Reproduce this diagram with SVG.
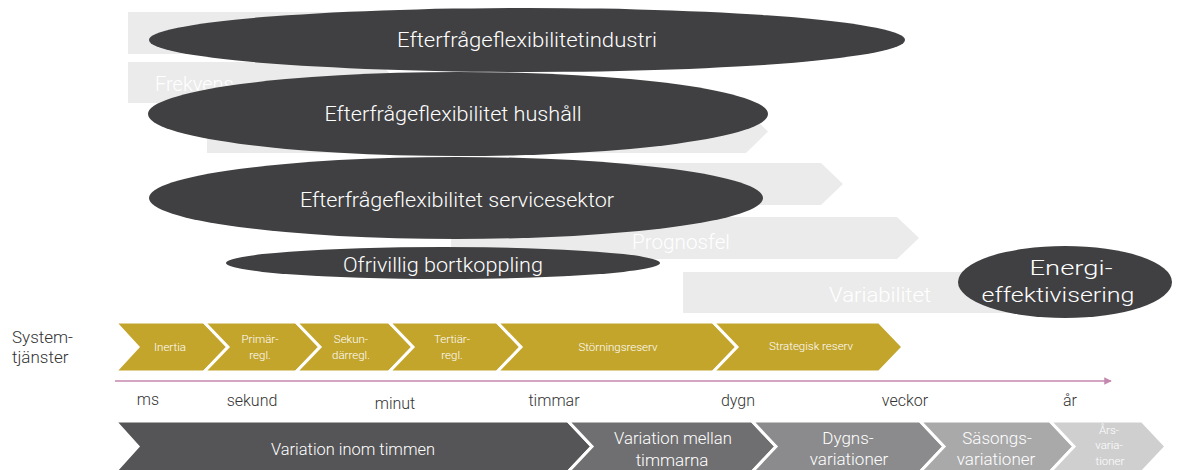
<svg xmlns="http://www.w3.org/2000/svg" width="1178" height="470" viewBox="0 0 1178 470">
  <style>
    text { font-family: Roboto, "Liberation Sans", "DejaVu Sans", sans-serif; font-weight: 300; }
    .bar { fill: #ebebeb; }
    .barlbl { fill: #ffffff; font-size: 20px; }
    .oval { fill: #404042; }
    .ovallbl { fill: #ffffff; font-size: 21px; text-anchor: middle; }
    .gold { fill: #c3a52b; stroke: #ffffff; stroke-width: 3; stroke-linejoin: miter; }
    .goldlbl { fill: #ffffff; font-size: 11.5px; text-anchor: middle; }
    .vlbl { fill: #ffffff; font-size: 17px; text-anchor: middle; }
    .ax { fill: #333333; font-size: 16px; text-anchor: middle; }
    .side { fill: #333333; font-size: 17px; }
    .band { stroke: #ffffff; stroke-width: 3; stroke-linejoin: miter; }
  </style>
  <defs>
    <marker id="tip" viewBox="0 0 10 10" refX="9" refY="5" markerWidth="5" markerHeight="5" orient="auto" markerUnits="strokeWidth">
      <path d="M0,0 L10,5 L0,10 Z" fill="#c487ad"/>
    </marker>
  </defs>

  <!-- background phenomenon bars -->
  <g id="bars">
    <path class="bar" d="M128,12 H600 L622,33 L600,54 H128 Z"/>
    <path class="bar" d="M128,62 H378 L399,82.5 L378,103 H128 Z"/>
    <text class="barlbl" x="155" y="91">Frekvens</text>
    <path class="bar" d="M207,110 H746 L768,131.5 L746,153 H207 Z"/>
    <path class="bar" d="M300,163 H821 L843,184 L821,205 H300 Z"/>
    <path class="bar" d="M451,217 H897 L919,238 L897,259 H451 Z"/>
    <text class="barlbl" x="632" y="249" textLength="98" lengthAdjust="spacingAndGlyphs">Prognosfel</text>
    <path class="bar" d="M683,272 H1060 L1082,292.5 L1060,313 H683 Z"/>
    <text class="barlbl" x="829" y="302" textLength="102" lengthAdjust="spacingAndGlyphs">Variabilitet</text>
  </g>

  <!-- demand-side resources -->
  <g id="industri">
    <ellipse class="oval" cx="527" cy="40" rx="378" ry="32"/>
    <text class="ovallbl" x="527" y="47" textLength="260" lengthAdjust="spacingAndGlyphs">Efterfrågeflexibilitetindustri</text>
  </g>
  <g id="hushall">
    <ellipse class="oval" cx="458" cy="114" rx="310" ry="42"/>
    <text class="ovallbl" x="453" y="121" textLength="257" lengthAdjust="spacingAndGlyphs">Efterfrågeflexibilitet hushåll</text>
  </g>
  <g id="servicesektor">
    <ellipse class="oval" cx="456" cy="198" rx="307" ry="41"/>
    <text class="ovallbl" x="457" y="207" textLength="314" lengthAdjust="spacingAndGlyphs">Efterfrågeflexibilitet servicesektor</text>
  </g>
  <g id="bortkoppling">
    <ellipse class="oval" cx="443" cy="263" rx="217" ry="16"/>
    <text class="ovallbl" x="443" y="272" textLength="200" lengthAdjust="spacingAndGlyphs">Ofrivillig bortkoppling</text>
  </g>
  <g id="energieffektivisering">
    <ellipse class="oval" cx="1065" cy="282" rx="107" ry="36"/>
    <text class="ovallbl" x="1071" y="275" font-size="22" textLength="83" lengthAdjust="spacingAndGlyphs">Energi-</text>
    <text class="ovallbl" x="1058" y="302" font-size="22" textLength="153" lengthAdjust="spacingAndGlyphs">effektivisering</text>
  </g>

  <!-- system services row -->
  <g id="systemtjanster">
    <text class="side" x="12" y="343">System-</text>
    <text class="side" x="12" y="363">tjänster</text>
  </g>
  <g id="inertia">
    <path class="gold" d="M115,322 H204 L228,347 L204,372 H115 L138,347 Z"/>
    <text class="goldlbl" x="170" y="351">Inertia</text>
  </g>
  <g id="primarregl">
    <path class="gold" d="M204,322 H296 L320,347 L296,372 H204 L228,347 Z"/>
    <text class="goldlbl" x="260" y="343">Primär-</text>
    <text class="goldlbl" x="260" y="359">regl.</text>
  </g>
  <g id="sekundarregl">
    <path class="gold" d="M296,322 H389 L413,347 L389,372 H296 L320,347 Z"/>
    <text class="goldlbl" x="351" y="343">Sekun-</text>
    <text class="goldlbl" x="351" y="359">därregl.</text>
  </g>
  <g id="tertiarregl">
    <path class="gold" d="M389,322 H497 L521,347 L497,372 H389 L413,347 Z"/>
    <text class="goldlbl" x="452" y="343">Tertiär-</text>
    <text class="goldlbl" x="452" y="359">regl.</text>
  </g>
  <g id="storningsreserv">
    <path class="gold" d="M497,322 H713 L737,347 L713,372 H497 L521,347 Z"/>
    <text class="goldlbl" x="618" y="351">Störningsreserv</text>
  </g>
  <g id="strategisk">
    <path class="gold" d="M713,322 H879 L903,347 L879,372 H713 L737,347 Z"/>
    <text class="goldlbl" x="811" y="350">Strategisk reserv</text>
  </g>

  <!-- time axis -->
  <g id="connectors">
    <line x1="115" y1="381" x2="1111" y2="381" stroke="#c487ad" stroke-width="1.5" marker-end="url(#tip)"/>
  </g>
  <g id="axis-labels">
    <text class="ax" x="148" y="405">ms</text>
    <text class="ax" x="252" y="406">sekund</text>
    <text class="ax" x="395" y="409">minut</text>
    <text class="ax" x="554" y="406">timmar</text>
    <text class="ax" x="738" y="406">dygn</text>
    <text class="ax" x="905" y="406">veckor</text>
    <text class="ax" x="1070" y="406">år</text>
  </g>

  <!-- variation time scales -->
  <g id="inom-timmen">
    <path class="band" fill="#555557" d="M115,421 H568 L592,446.5 L568,472 H115 L138,446.5 Z"/>
    <text class="vlbl" x="353" y="455" textLength="164" lengthAdjust="spacingAndGlyphs">Variation inom timmen</text>
  </g>
  <g id="mellan-timmarna">
    <path class="band" fill="#6f6f71" d="M568,421 H752 L776,446.5 L752,472 H568 L592,446.5 Z"/>
    <text class="vlbl" x="673" y="444" textLength="118" lengthAdjust="spacingAndGlyphs">Variation mellan</text>
    <text class="vlbl" x="672" y="466">timmarna</text>
  </g>
  <g id="dygn">
    <path class="band" fill="#8b8b8d" d="M752,421 H920 L944,446.5 L920,472 H752 L776,446.5 Z"/>
    <text class="vlbl" x="848" y="444">Dygns-</text>
    <text class="vlbl" x="849" y="465">variationer</text>
  </g>
  <g id="sasong">
    <path class="band" fill="#a9a9aa" d="M920,421 H1050 L1074,446.5 L1050,472 H920 L944,446.5 Z"/>
    <text class="vlbl" x="997" y="444">Säsongs-</text>
    <text class="vlbl" x="996" y="465">variationer</text>
  </g>
  <g id="ar">
    <path class="band" fill="#cfcfd0" d="M1050,421 H1142 L1166,446.5 L1142,472 H1050 L1074,446.5 Z"/>
    <text class="goldlbl" x="1109" y="434" fill="#eeeeee">Års-</text>
    <text class="goldlbl" x="1109" y="449" fill="#eeeeee">varia-</text>
    <text class="goldlbl" x="1110" y="465" fill="#eeeeee">tioner</text>
  </g>
</svg>
